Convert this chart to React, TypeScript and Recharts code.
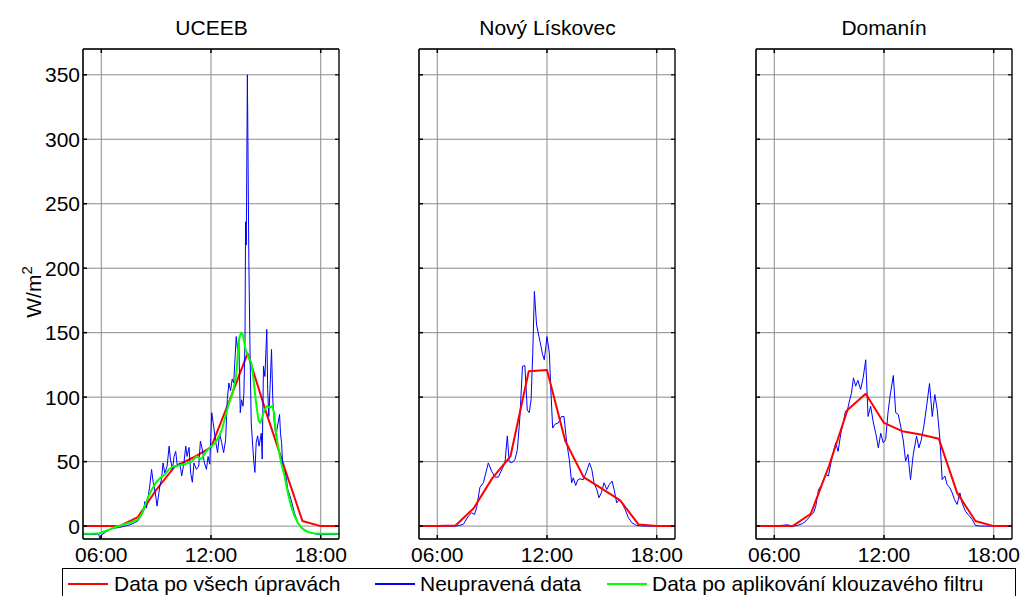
import { LineChart, Line, XAxis, YAxis, CartesianGrid } from "recharts";

const FONT = '"Liberation Sans", Arial, sans-serif';

const hourTicks = [6, 12, 18];
const valueTicks = [0, 50, 100, 150, 200, 250, 300, 350];
const panelTitles = ["UCEEB", "Nový Lískovec", "Domanín"];
const legendLabels = [
  "Data po všech úpravách",
  "Neupravená data",
  "Data po aplikování klouzavého filtru",
];

// UCEEB
const uceebFinalT = [5, 6, 7, 8, 9, 10, 11, 12, 13, 14, 15, 16, 17, 18, 19];
const uceebFinalV = [0, 0, 0, 7, 28, 46, 53, 61, 97, 134, 89, 46, 4, 0, 0];

const uceebRawT = [
  5.0, 5.3, 5.6, 5.85, 5.93, 6.0, 6.2, 6.47, 6.75, 7.0, 7.3, 7.56, 7.8, 8.0, 8.18,
  8.32, 8.38, 8.47, 8.65, 8.75, 8.84, 8.93, 9.05, 9.2, 9.29, 9.38, 9.47, 9.6, 9.71,
  9.78, 9.89, 9.98, 10.07, 10.16, 10.29, 10.4, 10.51, 10.62, 10.69, 10.8, 10.89,
  10.98, 11.07, 11.2, 11.33, 11.42, 11.53, 11.64, 11.75, 11.84, 11.93, 12.04, 12.15,
  12.26, 12.36, 12.47, 12.58, 12.69, 12.8, 12.89, 12.98, 13.07, 13.16, 13.24, 13.31,
  13.38, 13.45, 13.52, 13.6, 13.67, 13.75, 13.8, 13.86, 13.89, 13.93, 13.99, 14.07,
  14.13, 14.2, 14.33, 14.4, 14.47, 14.55, 14.63, 14.75, 14.8, 14.87, 14.95, 15.05,
  15.1, 15.16, 15.24, 15.31, 15.38, 15.46, 15.55, 15.62, 15.75, 15.8, 15.86, 15.93,
  16.07, 16.2, 16.38, 16.56, 16.75, 16.93, 17.11, 17.4, 17.7, 18.0, 18.5, 19.0,
];
const uceebRawV = [
  -6.5, -6.5, -6.5, -6, -10, -7, -5, -2.6, -1.5, -1, 0, 1, 2.5, 4, 8,
  12, 19, 14, 31, 44, 34, 28, 15.5, 31, 36, 49, 41, 46.5, 62,
  52, 44, 54, 58, 46.5, 49, 39, 48, 62, 54, 61, 41,
  34, 49, 44, 46.5, 66, 59, 49, 44, 54, 48, 88, 77,
  65, 57, 72, 65, 57, 67, 98, 111, 105, 114, 111, 129,
  147, 137, 145, 88, 98, 93, 103, 145, 236, 218, 350, 206,
  140, 80, 52, 41.6, 64.6, 70, 62, 72, 52, 124, 116, 152.5,
  106, 85, 111, 137, 98, 80, 70, 76, 86.6, 72, 64.6, 44,
  41.6, 28.4, 20.7, 10.3, 2.6, -1, -3.6, -5, -6, -6.5, -6.5, -6.5,
];

const uceebSmoothT = [
  5.0, 5.5, 5.9, 6.2, 6.46, 6.8, 7.2, 7.6, 8.0, 8.2, 8.38, 8.55, 8.75, 9.0, 9.2,
  9.47, 9.7, 9.9, 10.2, 10.57, 10.93, 11.2, 11.47, 11.75, 11.93, 12.2, 12.45, 12.6,
  12.84, 13.0, 13.2, 13.38, 13.53, 13.65, 13.75, 13.89, 14.02, 14.2, 14.29, 14.47,
  14.6, 14.7, 14.93, 15.05, 15.2, 15.35, 15.45, 15.53, 15.66, 15.84, 16.02, 16.2,
  16.38, 16.56, 16.75, 16.93, 17.11, 17.3, 17.6, 18.0, 18.5, 19.0,
];
const uceebSmoothV = [
  -6, -6, -5.5, -4, -2.6, -0.5, 1, 2.8, 5, 9, 15.5, 22, 28, 34, 37,
  40, 44, 46, 47, 48, 50, 54, 52, 58, 61, 64, 70, 75,
  88, 96, 104, 117, 145, 150, 148, 137, 132, 127, 118, 95,
  82, 80, 90, 93, 92, 93, 88, 75, 62, 49, 39, 26,
  15.5, 8, 2.6, -1, -3, -4.5, -5.5, -6, -6, -6,
];

// Nový Lískovec
const liskovecFinalT = [5, 6, 7, 8, 9, 10, 11, 12, 13, 14, 15, 16, 17, 18, 19];
const liskovecFinalV = [0, 0, 0.5, 14, 37, 54, 120, 121, 66, 38, 29, 20, 1.3, 0, 0];

const liskovecRawT = [
  5.0, 6.0, 7.06, 7.42, 7.7, 7.88, 8.03, 8.15, 8.33, 8.52, 8.79, 8.97, 9.16, 9.34,
  9.57, 9.7, 9.83, 9.93, 10.07, 10.25, 10.38, 10.52, 10.66, 10.79, 10.92, 11.03,
  11.13, 11.22, 11.31, 11.43, 11.62, 11.76, 11.85, 11.94, 12.0, 12.13, 12.2, 12.31,
  12.44, 12.62, 12.8, 12.93, 13.08, 13.22, 13.35, 13.44, 13.57, 13.68, 13.8, 13.99,
  14.17, 14.32, 14.45, 14.57, 14.72, 14.84, 14.97, 15.12, 15.27, 15.41, 15.56, 15.67,
  15.81, 15.96, 16.1, 16.27, 16.45, 16.64, 16.9, 17.27, 18.0, 18.5, 19.0,
];
const liskovecRawV = [
  0, 0, 0, 1.3, 7.8, 10.3, 9, 14, 30, 33.6, 49, 42.6, 38, 38,
  45, 49, 70, 50, 49, 51.7, 59.4, 85, 124, 124.5, 90, 88,
  98, 134, 182, 156, 143, 133, 129, 139.5, 147, 134, 108.5, 76,
  79, 80, 85, 85, 64.6, 51.7, 33.6, 37.5, 31.5, 35.7, 36.7, 36,
  42.6, 49, 44, 33.6, 28.4, 22, 25.8, 33.6, 28.4, 32.3, 34.9, 28.4,
  18, 20.7, 18, 13, 6.5, 2.6, 0.5, 0, 0, 0.5, 0,
];

// Domanín
const domaninFinalT = [5, 6, 7, 8, 9, 10, 11, 12, 13, 14, 15, 16, 17, 18, 19];
const domaninFinalV = [0, 0, 0, 9.6, 47, 90, 102.6, 80, 73.6, 71, 67.7, 25.8, 3.9, 0, 0];

const domaninRawT = [
  5.0, 6.0, 6.37, 6.73, 7.0, 7.27, 7.55, 7.73, 7.96, 8.15, 8.27, 8.42, 8.55, 8.69,
  8.82, 8.96, 9.1, 9.24, 9.36, 9.49, 9.64, 9.77, 9.89, 10.0, 10.11, 10.22, 10.33,
  10.45, 10.57, 10.72, 10.86, 11.0, 11.13, 11.27, 11.42, 11.55, 11.69, 11.82, 11.96,
  12.09, 12.22, 12.33, 12.51, 12.64, 12.78, 12.91, 13.06, 13.18, 13.31, 13.45, 13.6,
  13.78, 13.91, 14.04, 14.18, 14.33, 14.49, 14.64, 14.78, 14.91, 15.06, 15.18, 15.33,
  15.45, 15.6, 15.73, 15.85, 16.0, 16.15, 16.27, 16.45, 16.64, 16.82, 17.0, 17.27,
  18.0, 19.0,
];
const domaninRawV = [
  0, 0.5, 0.5, 1, 0, 0.5, 2, 3.9, 7.8, 10.3, 15.5, 28.4, 31, 36,
  40, 38.8, 49, 58, 64.6, 58, 72, 80, 89, 90, 97, 103, 115,
  108.5, 113, 106, 115, 129, 85, 93, 80, 72, 60.7, 72, 64.6,
  67, 88, 100.8, 116.8, 88, 86.6, 77.5, 66, 50.4, 55.6, 36, 55.6,
  69.8, 60.7, 67, 77.5, 93, 110.6, 85, 102, 90.4, 67, 36, 38.8,
  32.3, 29.7, 25.8, 20.7, 16.8, 25.8, 18, 11.6, 8.3, 5.2, 0.5, 0,
  0, 0,
];

const RED = "#ff0000";
const BLUE = "#0000ff";
const GREEN = "#00ff00";

const toPoints = (t: number[], v: number[]) => t.map((x, i) => ({ t: x, v: v[i] }));

type Series = { name: string; data: { t: number; v: number }[]; color: string; width: number };

const panels: { left: number; series: Series[] }[] = [
  {
    left: 83,
    series: [
      { name: "final", data: toPoints(uceebFinalT, uceebFinalV), color: RED, width: 2 },
      { name: "raw", data: toPoints(uceebRawT, uceebRawV), color: BLUE, width: 1 },
      { name: "smooth", data: toPoints(uceebSmoothT, uceebSmoothV), color: GREEN, width: 2 },
    ],
  },
  {
    left: 419,
    series: [
      { name: "raw", data: toPoints(liskovecRawT, liskovecRawV), color: BLUE, width: 1 },
      { name: "final", data: toPoints(liskovecFinalT, liskovecFinalV), color: RED, width: 2 },
    ],
  },
  {
    left: 755.5,
    series: [
      { name: "raw", data: toPoints(domaninRawT, domaninRawV), color: BLUE, width: 1 },
      { name: "final", data: toPoints(domaninFinalT, domaninFinalV), color: RED, width: 2 },
    ],
  },
];

const fmtHour = (h: number) => `${String(h).padStart(2, "0")}:00`;
const noLabel = () => "";

const PLOT_W = 257;
const PLOT_H = 490;
const TOP = 49;

function Panel({ left, title, series, showLabels }: { left: number; title: string; series: Series[]; showLabels: boolean }) {
  const tickStyle = { fill: "#000", fontSize: 21, fontFamily: FONT };
  return (
    <>
      <div
        style={{
          position: "absolute",
          left,
          top: 16,
          width: PLOT_W,
          textAlign: "center",
          fontSize: 21,
          lineHeight: "24px",
          fontFamily: FONT,
        }}
      >
        {title}
      </div>
      <div style={{ position: "absolute", left: left - 60, top: 0 }}>
        <LineChart
          width={60 + PLOT_W + 10}
          height={TOP + PLOT_H + 40}
          margin={{ top: TOP - 1, right: 10, bottom: 0, left: 0 }}
        >
          <CartesianGrid xAxisId="b" yAxisId="l" stroke="#8c8c8c" strokeWidth={1} />
          <XAxis
            xAxisId="t"
            orientation="top"
            dataKey="t"
            type="number"
            domain={[5, 19]}
            allowDataOverflow
            ticks={hourTicks}
            tickFormatter={noLabel}
            height={1}
            tickSize={-4}
            tick={tickStyle}
            stroke="#000"
            strokeWidth={1.5}
            interval={0}
          />
          <XAxis
            xAxisId="b"
            dataKey="t"
            type="number"
            domain={[5, 19]}
            allowDataOverflow
            ticks={hourTicks}
            tickFormatter={fmtHour}
            height={40}
            tickSize={-4}
            tickMargin={12}
            stroke="#000"
            strokeWidth={1.5}
            tick={tickStyle}
            interval={0}
          />
          <YAxis
            yAxisId="l"
            type="number"
            domain={[-10, 370]}
            allowDataOverflow
            ticks={valueTicks}
            width={60}
            tickSize={-4}
            tickMargin={7}
            stroke="#000"
            strokeWidth={1.5}
            tick={tickStyle}
            tickFormatter={showLabels ? undefined : noLabel}
            interval={0}
          />
          <YAxis
            yAxisId="r"
            orientation="right"
            type="number"
            domain={[-10, 370]}
            allowDataOverflow
            ticks={valueTicks}
            width={1}
            tickSize={-4}
            tick={tickStyle}
            tickFormatter={noLabel}
            stroke="#000"
            strokeWidth={1.2}
            interval={0}
          />
          {series.map((s) => (
            <Line
              key={s.name}
              xAxisId="b"
              yAxisId="l"
              data={s.data}
              dataKey="v"
              type="linear"
              stroke={s.color}
              strokeWidth={s.width}
              strokeLinejoin="round"
              dot={false}
              activeDot={false}
              isAnimationActive={false}
            />
          ))}
        </LineChart>
      </div>
    </>
  );
}

const legendItems = [
  { label: legendLabels[0], color: RED, lineX: 68, textX: 114 },
  { label: legendLabels[1], color: BLUE, lineX: 375, textX: 420 },
  { label: legendLabels[2], color: GREEN, lineX: 607, textX: 652 },
];

export default function App() {
  return (
    <div
      style={{
        position: "absolute",
        left: 0,
        top: 0,
        width: 1022,
        height: 596,
        overflow: "hidden",
        background: "#fff",
        fontFamily: FONT,
      }}
    >
      {panels.map((p, i) => (
        <Panel key={i} left={p.left} title={panelTitles[i]} series={p.series} showLabels={i === 0} />
      ))}

      <svg width={1022} height={596} style={{ position: "absolute", left: 0, top: 0, pointerEvents: "none" }}>
        <text
          x={41}
          y={292}
          transform="rotate(-90 41 292)"
          textAnchor="middle"
          fontSize={21}
          fontFamily={FONT}
          fill="#000"
        >
          W/m
          <tspan dy={-9} fontSize={15}>
            2
          </tspan>
        </text>
      </svg>

      <div
        style={{
          position: "absolute",
          left: 62,
          top: 568,
          width: 954,
          height: 40,
          border: "1px solid #000",
          boxSizing: "border-box",
        }}
      />
      {legendItems.map((it) => (
        <div key={it.label}>
          <div
            style={{
              position: "absolute",
              left: it.lineX,
              top: 583,
              width: 40,
              height: 2,
              background: it.color,
            }}
          />
          <div
            style={{
              position: "absolute",
              left: it.textX,
              top: 571,
              fontSize: 21,
              lineHeight: "26px",
              whiteSpace: "nowrap",
            }}
          >
            {it.label}
          </div>
        </div>
      ))}
    </div>
  );
}
